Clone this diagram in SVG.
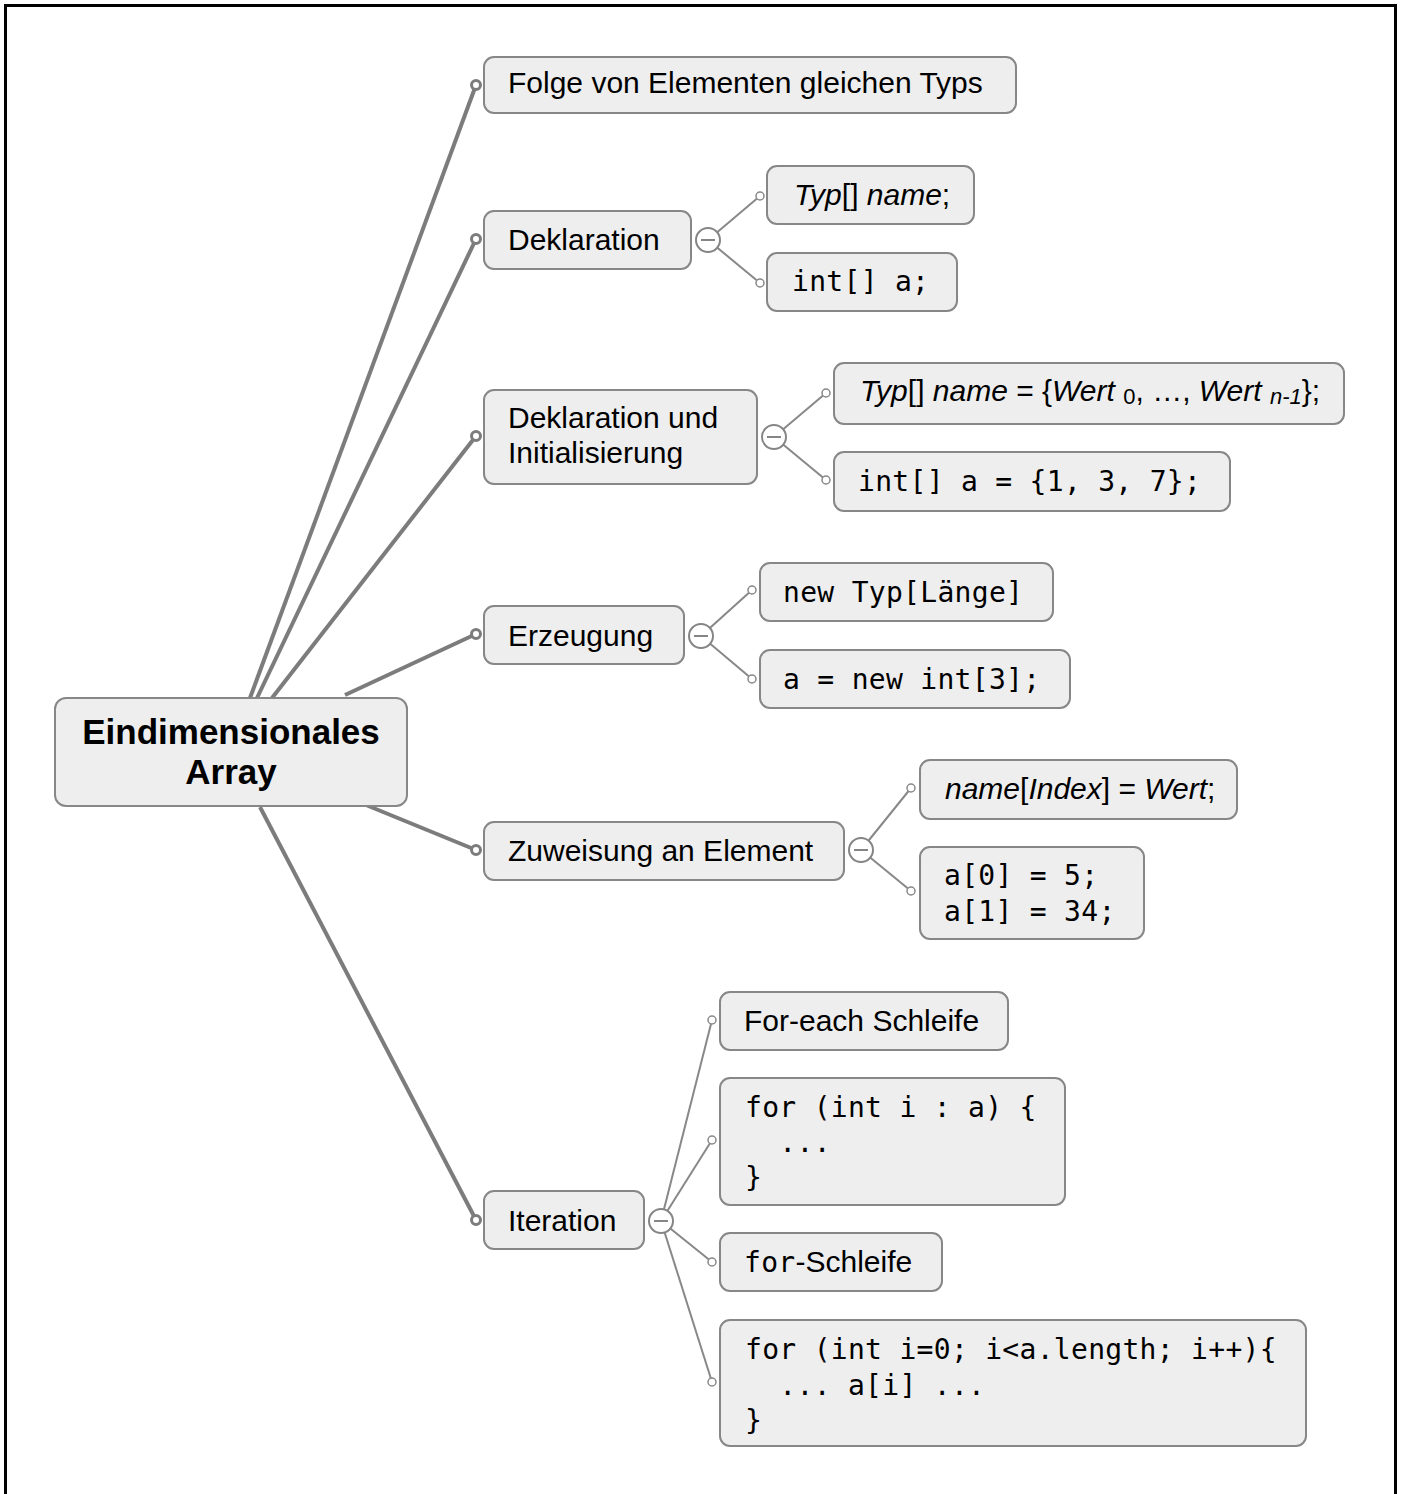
<svg xmlns="http://www.w3.org/2000/svg" width="1401" height="1494" viewBox="0 0 1401 1494">
  <style>
    .box { fill: #eeeeee; stroke: #878787; stroke-width: 2; }
    .sans { font-family: "Liberation Sans", Arial, sans-serif; font-size: 30px; fill: #000; }
    .root { font-family: "Liberation Sans", Arial, sans-serif; font-size: 35px; font-weight: bold; fill: #000; }
    .mono { font-family: "DejaVu Sans Mono", monospace; font-size: 28px; letter-spacing: 0.3px; fill: #000; }
    .it { font-style: italic; }
    .sub { font-size: 22px; }
    .main { stroke: #7c7c7c; stroke-width: 4; fill: none; }
    .sublink { stroke: #888888; stroke-width: 2; fill: none; }
    .mdot { fill: #ffffff; stroke: #7c7c7c; stroke-width: 3; }
    .cdot { fill: #ffffff; stroke: #888888; stroke-width: 1.5; }
    .toggle { fill: #ffffff; stroke: #858585; stroke-width: 2; }
    .minus { stroke: #858585; stroke-width: 2; }
  </style>

  <!-- page frame (open at the bottom) -->
  <path d="M5.5,1494 V5.5 H1395.5 V1494" fill="none" stroke="#000" stroke-width="3"/>

  <g id="connectors">
    <!-- root to first-level topics -->
    <line class="main" x1="250" y1="698" x2="476" y2="85"/>
    <line class="main" x1="257" y1="698" x2="476" y2="239"/>
    <line class="main" x1="272" y1="698" x2="476" y2="436"/>
    <line class="main" x1="345" y1="695" x2="476" y2="634"/>
    <line class="main" x1="366" y1="805" x2="476" y2="850"/>
    <line class="main" x1="260" y1="807" x2="476" y2="1220"/>
    <circle class="mdot" cx="476" cy="85" r="4.5"/>
    <circle class="mdot" cx="476" cy="239" r="4.5"/>
    <circle class="mdot" cx="476" cy="436" r="4.5"/>
    <circle class="mdot" cx="476" cy="634" r="4.5"/>
    <circle class="mdot" cx="476" cy="850" r="4.5"/>
    <circle class="mdot" cx="476" cy="1220" r="4.5"/>

    <!-- Deklaration -->
    <line class="sublink" x1="708" y1="240" x2="760" y2="196"/>
    <line class="sublink" x1="708" y1="240" x2="760" y2="283"/>
    <circle class="cdot" cx="760" cy="196" r="4"/>
    <circle class="cdot" cx="760" cy="283" r="4"/>
    <circle class="toggle" cx="708" cy="240" r="12"/>
    <line class="minus" x1="701" y1="240" x2="715" y2="240"/>

    <!-- Deklaration und Initialisierung -->
    <line class="sublink" x1="774" y1="437" x2="826" y2="393"/>
    <line class="sublink" x1="774" y1="437" x2="826" y2="480"/>
    <circle class="cdot" cx="826" cy="393" r="4"/>
    <circle class="cdot" cx="826" cy="480" r="4"/>
    <circle class="toggle" cx="774" cy="437" r="12"/>
    <line class="minus" x1="767" y1="437" x2="781" y2="437"/>

    <!-- Erzeugung -->
    <line class="sublink" x1="701" y1="636" x2="752" y2="590"/>
    <line class="sublink" x1="701" y1="636" x2="752" y2="679"/>
    <circle class="cdot" cx="752" cy="590" r="4"/>
    <circle class="cdot" cx="752" cy="679" r="4"/>
    <circle class="toggle" cx="701" cy="636" r="12"/>
    <line class="minus" x1="694" y1="636" x2="708" y2="636"/>

    <!-- Zuweisung an Element -->
    <line class="sublink" x1="861" y1="850" x2="911" y2="788"/>
    <line class="sublink" x1="861" y1="850" x2="911" y2="891"/>
    <circle class="cdot" cx="911" cy="788" r="4"/>
    <circle class="cdot" cx="911" cy="891" r="4"/>
    <circle class="toggle" cx="861" cy="850" r="12"/>
    <line class="minus" x1="854" y1="850" x2="868" y2="850"/>

    <!-- Iteration -->
    <line class="sublink" x1="661" y1="1221" x2="712" y2="1020"/>
    <line class="sublink" x1="661" y1="1221" x2="712" y2="1140"/>
    <line class="sublink" x1="661" y1="1221" x2="712" y2="1262"/>
    <line class="sublink" x1="661" y1="1221" x2="712" y2="1382"/>
    <circle class="cdot" cx="712" cy="1020" r="4"/>
    <circle class="cdot" cx="712" cy="1140" r="4"/>
    <circle class="cdot" cx="712" cy="1262" r="4"/>
    <circle class="cdot" cx="712" cy="1382" r="4"/>
    <circle class="toggle" cx="661" cy="1221" r="12"/>
    <line class="minus" x1="654" y1="1221" x2="668" y2="1221"/>
  </g>

  <g id="root">
    <rect class="box" x="55" y="698" width="352" height="108" rx="11"/>
    <text class="root" x="231" y="744" text-anchor="middle">Eindimensionales</text>
    <text class="root" x="231" y="784" text-anchor="middle">Array</text>
  </g>

  <g id="folge">
    <rect class="box" x="484" y="57" width="532" height="56" rx="10"/>
    <text class="sans" x="508" y="93">Folge von Elementen gleichen Typs</text>
  </g>

  <g id="deklaration">
    <rect class="box" x="484" y="211" width="207" height="58" rx="10"/>
    <text class="sans" x="508" y="250">Deklaration</text>
  </g>
  <g id="dekl-syntax">
    <rect class="box" x="767" y="166" width="207" height="58" rx="10"/>
    <text class="sans" x="794" y="205"><tspan class="it">Typ</tspan>[] <tspan class="it">name</tspan>;</text>
  </g>
  <g id="dekl-beispiel">
    <rect class="box" x="767" y="253" width="190" height="58" rx="10"/>
    <text class="mono" x="792" y="291">int[] a;</text>
  </g>

  <g id="dekl-init">
    <rect class="box" x="484" y="390" width="273" height="94" rx="10"/>
    <text class="sans" x="508" y="428">Deklaration und</text>
    <text class="sans" x="508" y="463">Initialisierung</text>
  </g>
  <g id="dekl-init-syntax">
    <rect class="box" x="834" y="363" width="510" height="61" rx="10"/>
    <text class="sans" x="860" y="401"><tspan class="it">Typ</tspan>[] <tspan class="it">name</tspan> = {<tspan class="it">Wert</tspan> <tspan class="sub" dy="3">0</tspan><tspan dy="-3">, …, </tspan><tspan class="it">Wert</tspan> <tspan class="it sub" dy="3">n-1</tspan><tspan dy="-3">};</tspan></text>
  </g>
  <g id="dekl-init-beispiel">
    <rect class="box" x="834" y="452" width="396" height="59" rx="10"/>
    <text class="mono" x="858" y="491">int[] a = {1, 3, 7};</text>
  </g>

  <g id="erzeugung">
    <rect class="box" x="484" y="606" width="200" height="58" rx="10"/>
    <text class="sans" x="508" y="646">Erzeugung</text>
  </g>
  <g id="erz-syntax">
    <rect class="box" x="760" y="563" width="293" height="58" rx="10"/>
    <text class="mono" x="783" y="602">new Typ[Länge]</text>
  </g>
  <g id="erz-beispiel">
    <rect class="box" x="760" y="650" width="310" height="58" rx="10"/>
    <text class="mono" x="783" y="689">a = new int[3];</text>
  </g>

  <g id="zuweisung">
    <rect class="box" x="484" y="822" width="360" height="58" rx="10"/>
    <text class="sans" x="508" y="861">Zuweisung an Element</text>
  </g>
  <g id="zuw-syntax">
    <rect class="box" x="920" y="760" width="317" height="59" rx="10"/>
    <text class="sans" x="945" y="799"><tspan class="it">name</tspan>[<tspan class="it">Index</tspan>] = <tspan class="it">Wert</tspan>;</text>
  </g>
  <g id="zuw-beispiel">
    <rect class="box" x="920" y="847" width="224" height="92" rx="10"/>
    <text class="mono" x="944" y="885">a[0] = 5;</text>
    <text class="mono" x="944" y="921">a[1] = 34;</text>
  </g>

  <g id="iteration">
    <rect class="box" x="484" y="1191" width="160" height="58" rx="10"/>
    <text class="sans" x="508" y="1231">Iteration</text>
  </g>
  <g id="foreach">
    <rect class="box" x="720" y="992" width="288" height="58" rx="10"/>
    <text class="sans" x="744" y="1031">For-each Schleife</text>
  </g>
  <g id="foreach-code">
    <rect class="box" x="720" y="1078" width="345" height="127" rx="10"/>
    <text class="mono" x="745" y="1117" xml:space="preserve">for (int i : a) {</text>
    <text class="mono" x="745" y="1152" xml:space="preserve">  ...</text>
    <text class="mono" x="745" y="1187">}</text>
  </g>
  <g id="for-schleife">
    <rect class="box" x="720" y="1233" width="222" height="58" rx="10"/>
    <text x="744" y="1272"><tspan class="mono">for</tspan><tspan class="sans">-Schleife</tspan></text>
  </g>
  <g id="for-code">
    <rect class="box" x="720" y="1320" width="586" height="126" rx="10"/>
    <text class="mono" x="745" y="1359" xml:space="preserve">for (int i=0; i&lt;a.length; i++){</text>
    <text class="mono" x="745" y="1395" xml:space="preserve">  ... a[i] ...</text>
    <text class="mono" x="745" y="1430">}</text>
  </g>
</svg>
